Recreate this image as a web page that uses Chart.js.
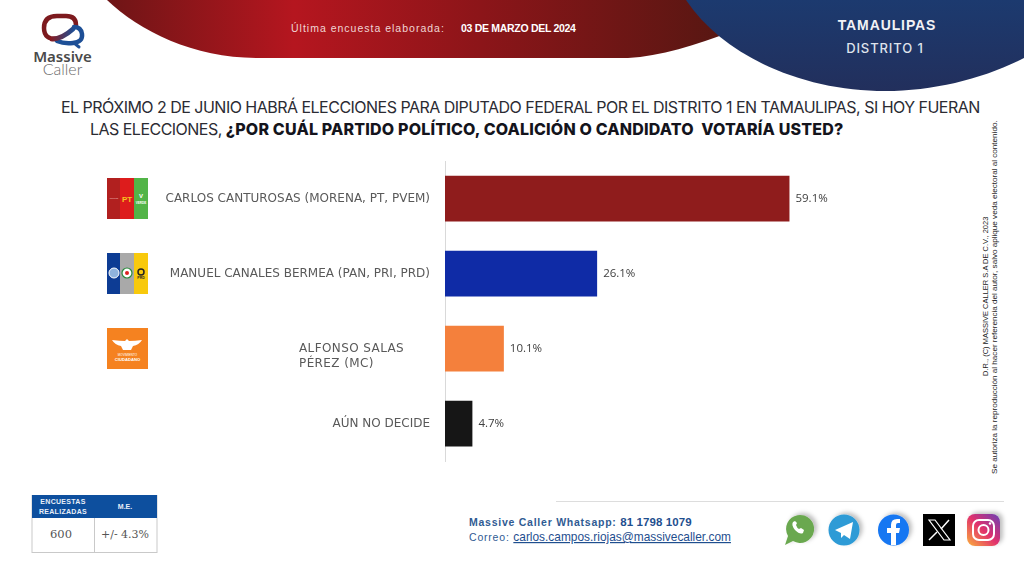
<!DOCTYPE html>
<html>
<head>
<meta charset="utf-8">
<title>Massive Caller - Tamaulipas Distrito 1</title>
<script src="https://cdn.jsdelivr.net/npm/chart.js@4/dist/chart.umd.min.js"></script>
<style>
  html, body { margin: 0; padding: 0; background: #fff; }
  #page { position: relative; width: 1024px; height: 576px; overflow: hidden; background: #fff; }
  #decor, #chartBox { position: absolute; left: 0; top: 0; width: 1024px; height: 576px; }
  #decor text { font-family: "Liberation Sans", sans-serif; }
  .title { position: absolute; white-space: nowrap; font-family: "Inter", sans-serif; font-size: 16px; letter-spacing: -0.52px; color: #2b2b33; }
  .title b { color: #14141c; font-weight: 800; letter-spacing: 0.18px; }
</style>
</head>
<body>
<div id="page">
  <svg id="decor" viewBox="0 0 1024 576" xmlns="http://www.w3.org/2000/svg">
    <defs>
      <linearGradient id="red" x1="107" x2="730" y1="0" y2="0" gradientUnits="userSpaceOnUse">
        <stop offset="0" stop-color="#6e1516"/>
        <stop offset="0.3" stop-color="#b5161f"/>
        <stop offset="0.6" stop-color="#8c1519"/>
        <stop offset="1" stop-color="#561712"/>
      </linearGradient>
      <linearGradient id="navy" x1="0" x2="0" y1="0" y2="91" gradientUnits="userSpaceOnUse">
        <stop offset="0" stop-color="#1c3a6f"/>
        <stop offset="1" stop-color="#222f5c"/>
      </linearGradient>
      <linearGradient id="link" x1="50" x2="74" y1="0" y2="0" gradientUnits="userSpaceOnUse">
        <stop offset="0" stop-color="#8a1a1e"/>
        <stop offset="1" stop-color="#1d4f96"/>
      </linearGradient>
      <linearGradient id="insta" x1="0" x2="1" y1="1" y2="0">
        <stop offset="0" stop-color="#fbb03b"/>
        <stop offset="0.5" stop-color="#e1306c"/>
        <stop offset="1" stop-color="#6a3fb5"/>
      </linearGradient>
      <filter id="soft" x="-30%" y="-30%" width="170%" height="170%">
        <feDropShadow dx="3" dy="-2" stdDeviation="2" flood-color="#000" flood-opacity="0.25"/>
      </filter>
    </defs>

    <!-- cabecera -->
    <path d="M107,0 C140,32 195,58 258,58 L628,58 C660,56 695,46 735,30 L735,0 Z" fill="url(#red)"/>
    <path d="M686,0 C725,58 805,91 885,91 C935,91 985,78 1024,58 L1024,0 Z" fill="url(#navy)"/>
    <text x="291" y="32" font-size="10.5" letter-spacing="1" fill="#f0d5d5">Última encuesta elaborada:</text>
    <text x="461" y="32" font-size="10.5" font-weight="700" letter-spacing="-0.3" fill="#fff">03 DE MARZO DEL 2024</text>
    <text x="887" y="30" font-size="14" font-weight="700" letter-spacing="0.9" text-anchor="middle" fill="#f2f2f5">TAMAULIPAS</text>
    <text x="885" y="53" font-size="13" letter-spacing="0.9" text-anchor="middle" fill="#dfe3ec" style="font-family:'Inter',sans-serif;font-weight:500">DISTRITO 1</text>

    <!-- logo -->
    <path d="M58,39 Q44,40 44,28 Q44,16 57,16 L66,16 Q76,16 76,25" fill="none" stroke="#7d1a1e" stroke-width="4.5" stroke-linecap="round"/>
    <path d="M57,41 Q64,44 73,43 Q83,42 82,34 Q81,27 74,27" fill="none" stroke="#1d4f96" stroke-width="4.5" stroke-linecap="round"/>
    <path d="M74,43 L79,47" fill="none" stroke="#1d4f96" stroke-width="3" stroke-linecap="round"/>
    <path d="M52,39 Q62,39 73,29" fill="none" stroke="url(#link)" stroke-width="5" stroke-linecap="round"/>
    <text x="62.500" y="62" font-size="15" text-anchor="middle" fill="#4a4a4a" style="font-family:'Noto Sans',sans-serif;font-weight:600">Massive</text>
    <text x="62.500" y="75" font-size="16" text-anchor="middle" fill="#6a6a6a" style="font-family:'Lato',sans-serif;font-weight:300">Caller</text>

    <!-- logos de partidos -->
    <rect x="107" y="178" width="14" height="41" fill="#b1201f"/>
    <rect x="120" y="178" width="14" height="41" fill="#dd1c1c"/>
    <rect x="134" y="178" width="14" height="41" fill="#52b447"/>
    <text x="127" y="202" font-size="8" font-weight="700" text-anchor="middle" fill="#f7c51e">PT</text>
    <text x="141" y="198" font-size="6" font-weight="700" text-anchor="middle" fill="#fff">V</text>
    <text x="141" y="204" font-size="3" font-weight="700" text-anchor="middle" fill="#fff">VERDE</text>
    <text x="114" y="199" font-size="2.5" text-anchor="middle" fill="#f2c9c9">morena</text>

    <rect x="107" y="253" width="14" height="41" fill="#0d3c94"/>
    <rect x="120" y="253" width="14" height="41" fill="#a9a9a9"/>
    <rect x="134" y="253" width="14" height="41" fill="#f8c90c"/>
    <circle cx="114" cy="273" r="5" fill="#8fb3dd" stroke="#fff" stroke-width="1"/>
    <circle cx="127" cy="273" r="5" fill="#fff" stroke="#2a8a3c" stroke-width="1.2"/>
    <circle cx="127" cy="273" r="2" fill="#d22"/>
    <circle cx="141" cy="272" r="3" fill="#f8c90c" stroke="#222" stroke-width="1.5"/>
    <text x="141" y="279" font-size="3.5" font-weight="700" text-anchor="middle" fill="#222">PRD</text>

    <rect x="107" y="328" width="41" height="41" fill="#f58220"/>
    <path d="M112,340 q8,1 13,1 l2,-2 l2,2 q6,0 13,-1 q-3,5 -9,6 l-2,4 h-8 l-2,-4 q-6,-1 -9,-6 Z" fill="#fff"/>
    <text x="127.500" y="356" font-size="3" text-anchor="middle" fill="#fff">MOVIMIENTO</text>
    <text x="127.500" y="360.500" font-size="4.200" font-weight="700" text-anchor="middle" fill="#fff">CIUDADANO</text>

    <!-- leyenda vertical -->
    <text transform="translate(988,376) rotate(-90)" font-size="7.500" fill="#222">D.R., (C) MASSIVE CALLER S.A DE C.V., 2023</text>
    <text transform="translate(997,474) rotate(-90)" font-size="8.100" fill="#222">Se autoriza la reproducción al hacer referencia del autor, salvo aplique veda electoral al contenido.</text>

    <!-- tabla de muestra -->
    <rect x="32" y="495.500" width="125" height="57" fill="#fff" stroke="#c9c9c9"/>
    <rect x="32" y="495" width="125" height="23" fill="#0d4f9e"/>
    <line x1="94.500" x2="94.500" y1="518" y2="552" stroke="#c9c9c9"/>
    <text x="63" y="504" font-size="7" font-weight="700" text-anchor="middle" fill="#e8eef8" letter-spacing="0.3">ENCUESTAS</text>
    <text x="63" y="514" font-size="7" font-weight="700" text-anchor="middle" fill="#e8eef8" letter-spacing="0.3">REALIZADAS</text>
    <text x="125" y="509" font-size="7" font-weight="700" text-anchor="middle" fill="#e8eef8">M.E.</text>
    <text x="61" y="538" font-size="11.500" text-anchor="middle" fill="#555" style="font-family:'DejaVu Serif',serif">600</text>
    <text x="125" y="538" font-size="11" text-anchor="middle" fill="#555" style="font-family:'DejaVu Serif',serif">+/- 4.3%</text>

    <!-- pie -->
    <line x1="556" x2="1004" y1="501.500" y2="501.500" stroke="#dddddd"/>
    <text x="469" y="526" font-size="10.500" font-weight="700" letter-spacing="0.75" fill="#2f5b93">Massive Caller Whatsapp: <tspan fill="#1f4f8f" letter-spacing="0.1" font-size="11.500">81 1798 1079</tspan></text>
    <text x="469" y="541" font-size="10.500" letter-spacing="0.8" fill="#2f5b93">Correo: <tspan fill="#1f4f8f" letter-spacing="0" font-size="11.900" text-decoration="underline">carlos.campos.riojas@massivecaller.com</tspan></text>

    <!-- redes -->
    <g filter="url(#soft)">
      <path d="M785,545 l3,-9 a14,14 0 1 1 5,5 Z" fill="#6aa84f"/>
      <path d="M793,522 q-2,3 2,8 q5,5 8,3 l1,-3 l-3,-2 l-2,1 q-2,-1 -3,-4 l1,-2 l-2,-2 Z" fill="#fff"/>
    </g>
    <g filter="url(#soft)">
      <circle cx="844" cy="530" r="15.500" fill="#2e9bd6"/>
      <path d="M835,530 l18,-8 l-3,17 l-6,-4 l-3,3 v-5 Z" fill="#fff"/>
    </g>
    <g filter="url(#soft)">
      <circle cx="893.500" cy="530" r="15.500" fill="#1877f2"/>
      <path d="M891,545 v-12 h-4 v-5 h4 v-3 q0,-6 6,-6 h3 v4 h-2 q-2,0 -2,2 v3 h4 l-1,5 h-3 v12 Z" fill="#fff"/>
    </g>
    <rect x="923" y="514" width="32" height="32" fill="#000"/>
    <path d="M929,520 h6 l15,20 h-6 Z" fill="none" stroke="#fff" stroke-width="1.200"/>
    <path d="M949,520 l-8,9 M937,532 l-8,8" stroke="#fff" stroke-width="1.500"/>
    <g filter="url(#soft)">
      <rect x="967" y="514" width="33" height="32" rx="8" fill="url(#insta)"/>
      <rect x="973" y="520" width="21" height="20" rx="6" fill="none" stroke="#fff" stroke-width="2"/>
      <circle cx="983.500" cy="530" r="5" fill="none" stroke="#fff" stroke-width="2"/>
      <circle cx="990" cy="523.500" r="1.200" fill="#fff"/>
    </g>
  </svg>

  <div class="title" style="left:61px;top:97px">EL PRÓXIMO 2 DE JUNIO HABRÁ ELECCIONES PARA DIPUTADO FEDERAL POR EL DISTRITO 1 EN TAMAULIPAS, SI HOY FUERAN</div>
  <div class="title" style="left:90px;top:119px">LAS ELECCIONES, <b>¿POR CUÁL PARTIDO POLÍTICO, COALICIÓN O CANDIDATO&nbsp; VOTARÍA USTED?</b></div>

  <div id="chartBox"><canvas id="chart"></canvas></div>
</div>

<script>
// Datos de la encuesta
const categories = [
  'CARLOS CANTUROSAS (MORENA, PT, PVEM)',
  'MANUEL CANALES BERMEA (PAN, PRI, PRD)',
  ['ALFONSO SALAS', 'PÉREZ (MC)'],
  'AÚN NO DECIDE'
];
const values = [59.1, 26.1, 10.1, 4.7];
const barColors = ['#8f1c1c', '#0f2ba6', '#f4803c', '#161616'];

// Etiquetas de categoria y de valor, dibujadas con las escalas de la grafica
const barLabels = {
  id: 'barLabels',
  afterDatasetsDraw(chart) {
    const { ctx, scales } = chart;
    ctx.save();
    ctx.textBaseline = 'middle';
    categories.forEach((cat, i) => {
      const y = scales.y.getPixelForValue(i);
      ctx.fillStyle = '#595959';
      ctx.font = '12px "DejaVu Sans", sans-serif';
      if (Array.isArray(cat)) {
        ctx.textAlign = 'left';
        ctx.letterSpacing = '0.4px';
        cat.forEach((line, j) => ctx.fillText(line, 299, y + j * 15));
        ctx.letterSpacing = '0px';
      } else {
        ctx.textAlign = 'right';
        ctx.fillText(cat, 430, y);
      }
      ctx.fillStyle = '#404040';
      ctx.font = '11.5px "Open Sans", sans-serif';
      ctx.textAlign = 'left';
      ctx.fillText(values[i].toFixed(1) + '%', scales.x.getPixelForValue(values[i]) + 6, y);
    });
    ctx.restore();
  }
};

new Chart(document.getElementById('chart').getContext('2d'), {
  type: 'bar',
  data: {
    labels: categories,
    datasets: [{
      data: values,
      backgroundColor: barColors,
      categoryPercentage: 1,
      barPercentage: 0.61
    }]
  },
  options: {
    indexAxis: 'y',
    responsive: true,
    maintainAspectRatio: false,
    animation: false,
    layout: { padding: { left: 445, right: 171, top: 161, bottom: 115 } },
    plugins: { legend: { display: false }, tooltip: { enabled: false } },
    scales: {
      x: { display: false, min: 0, max: 70 },
      y: {
        ticks: { display: false },
        grid: { display: false, drawTicks: false },
        border: { color: '#d9d9d9', width: 1 }
      }
    }
  },
  plugins: [barLabels]
});
</script>
</body>
</html>
